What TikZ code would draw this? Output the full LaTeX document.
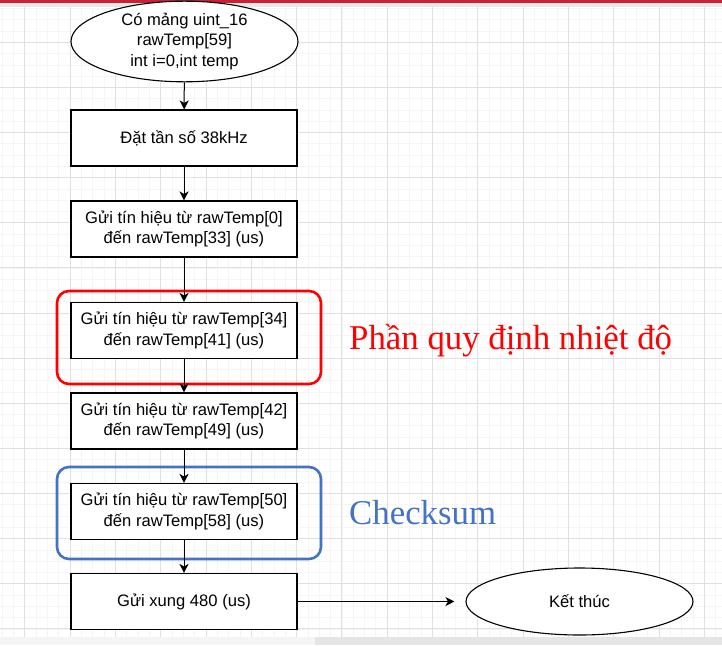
\documentclass[tikz,border=0pt]{standalone}
\usepackage{fontspec}
\setmainfont{Liberation Sans}
\newfontfamily\seriffont{Liberation Serif}
\usepackage{tikz}
\usetikzlibrary{arrows.meta,shapes.geometric}
\definecolor{frameblue}{HTML}{4472C4}
\definecolor{barred}{HTML}{C8213A}

\begin{document}
\begin{tikzpicture}[x=1pt, y=-1pt,
    boxtxt/.style={font=\fontsize{16.6}{20.6}\selectfont, align=center},
    stepbox/.style={rectangle, draw, line width=1.1pt, fill=white, minimum width=226pt, minimum height=56pt, inner sep=0pt, boxtxt},
    termnode/.style={ellipse, draw, line width=1.1pt, fill=white, minimum width=227pt, minimum height=67pt, inner sep=0pt, boxtxt},
    flow/.style={line width=1pt, -{Stealth[length=9pt, width=9pt, inset=2.5pt]}},
    gridminor/.style={draw=black!4, line width=0.8pt},
    gridmajor/.style={draw=black!12, line width=0.8pt}]

    \useasboundingbox (0,0) rectangle (722,645);

    % background grid of the screenshot
    \foreach \i in {0,...,63} \draw[gridminor] ({2+11.33*\i},7) -- ({2+11.33*\i},637);
    \foreach \j in {0,...,55} \draw[gridminor] (0,{8.5+11.28*\j}) -- (722,{8.5+11.28*\j});
    \foreach \i in {0,...,15} \draw[gridmajor] ({24.7+45.3*\i},7) -- ({24.7+45.3*\i},637);
    \foreach \j in {0,...,13} \draw[gridmajor] (0,{42.3+45.1*\j}) -- (722,{42.3+45.1*\j});
    \fill[barred] (0,0) rectangle (722,3);
    \fill[black!9] (0,3) rectangle (722,7);
    \fill[black!4] (0,637) rectangle (722,645);
    \fill[black!10] (315,637) rectangle (722,645);

    \node[termnode] (start) at (184.5,41.5) {Có mảng uint\_16\\rawTemp[59]\\int i=0,int temp};
    \node[stepbox] (freq) at (184,138) {Đặt tần số 38kHz};
    \node[stepbox] (send0) at (184,229) {Gửi tín hiệu từ rawTemp[0]\\đến rawTemp[33] (us)};
    \node[stepbox] (send34) at (184,330.5) {Gửi tín hiệu từ rawTemp[34]\\đến rawTemp[41] (us)};
    \node[stepbox] (send42) at (184,421) {Gửi tín hiệu từ rawTemp[42]\\đến rawTemp[49] (us)};
    \node[stepbox] (send50) at (184,511.5) {Gửi tín hiệu từ rawTemp[50]\\đến rawTemp[58] (us)};
    \node[stepbox] (pulse) at (184,601.5) {Gửi xung 480 (us)};
    \node[termnode] (stop) at (579.5,601.5) {Kết thúc};

    % highlight frames
    \draw[red, line width=2.6pt, rounded corners=12pt] (57,291) rectangle (321,384);
    \draw[frameblue, line width=2.6pt, rounded corners=12pt] (57,467) rectangle (321,559);
    \node[anchor=base west, text=red, font=\seriffont\fontsize{34.8}{40}\selectfont, inner sep=0pt] (quydinh) at (349,349) {Phần quy định nhiệt độ};
    \node[anchor=base west, text=frameblue, font=\seriffont\fontsize{34.8}{40}\selectfont, inner sep=0pt] (checksum) at (349,524) {Checksum};

    \draw[flow] (start) -- (freq);
    \draw[flow] (freq) -- (send0);
    \draw[flow] (send0) -- (send34);
    \draw[flow] (send34) -- (send42);
    \draw[flow] (send42) -- (send50);
    \draw[flow] (send50) -- (pulse);
    \draw[flow, shorten >=11pt] (pulse) -- (stop);

\end{tikzpicture}
\end{document}
